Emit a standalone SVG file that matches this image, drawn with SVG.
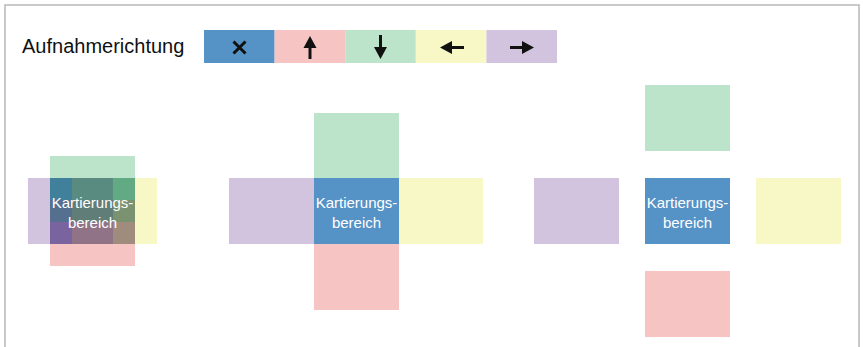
<svg xmlns="http://www.w3.org/2000/svg" width="863" height="347" viewBox="0 0 863 347">
<style>
.t{font-family:"Liberation Sans",Arial,sans-serif}
.lbl{font-size:20px;fill:#111}
.kb{font-size:15px;fill:#fff;text-anchor:middle}
.b{fill:#5592c6}.pk{fill:#f6c5c3}.g{fill:#bbe4ca}.y{fill:#f8f7c6}.pu{fill:#d2c3de}
.sh{stroke:#111;stroke-width:3;fill:none}
.hd{fill:#111}
</style>
<rect width="863" height="347" fill="#fff"/>
<path d="M5 347 V5 H859 V347" fill="none" stroke="#b8b8b8" stroke-width="1.5"/>
<g id="legend">
<text class="t lbl" x="22" y="53">Aufnahmerichtung</text>
<rect class="b" x="204" y="30" width="70.6" height="33"/>
<rect class="pk" x="274.6" y="30" width="70.6" height="33"/>
<rect class="g" x="345.2" y="30" width="70.6" height="33"/>
<rect class="y" x="415.8" y="30" width="70.6" height="33"/>
<rect class="pu" x="486.4" y="30" width="70.6" height="33"/>
<path class="sh" d="M233.5 41.5 L245.5 53.5 M245.5 41.5 L233.5 53.5"/>
<path class="sh" d="M310 59 V46"/>
<path class="hd" d="M310 36 L316.5 48 L303.5 48 Z"/>
<path class="sh" d="M380.5 35 V48"/>
<path class="hd" d="M380.5 59 L374 47 L387 47 Z"/>
<path class="sh" d="M464 47.5 H451"/>
<path class="hd" d="M440 47.5 L452 41 L452 54 Z"/>
<path class="sh" d="M510 47.5 H523"/>
<path class="hd" d="M534 47.5 L522 41 L522 54 Z"/>
</g>
<g id="overlap">
<rect class="pu" x="28" y="178" width="85" height="66"/>
<rect class="y" x="72" y="178" width="85" height="66"/>
<rect class="g" x="50" y="156" width="85" height="66"/>
<rect class="pk" x="50" y="200" width="85" height="66"/>
<rect class="b" x="50" y="178" width="85" height="66"/>
<rect x="50" y="178" width="22" height="22" fill="#41809a"/>
<rect x="72" y="178" width="41" height="22" fill="#5a8b80"/>
<rect x="113" y="178" width="22" height="22" fill="#62aa84"/>
<rect x="50" y="200" width="22" height="22" fill="#55708e"/>
<rect x="72" y="200" width="41" height="22" fill="#617d78"/>
<rect x="113" y="200" width="22" height="22" fill="#7a9270"/>
<rect x="50" y="222" width="22" height="22" fill="#7a64a0"/>
<rect x="72" y="222" width="41" height="22" fill="#917388"/>
<rect x="113" y="222" width="22" height="22" fill="#a08c7c"/>
<text class="t kb" x="92.5" y="208">Kartierungs-</text>
<text class="t kb" x="92.5" y="228">bereich</text>
</g>
<g id="adjacent">
<rect class="g" x="314" y="113" width="85" height="65"/>
<rect class="pk" x="314" y="244" width="85" height="66"/>
<rect class="pu" x="229" y="178" width="85" height="66"/>
<rect class="y" x="399" y="178" width="84" height="66"/>
<rect class="b" x="314" y="178" width="85" height="66"/>
<text class="t kb" x="356.5" y="208">Kartierungs-</text>
<text class="t kb" x="356.5" y="228">bereich</text>
</g>
<g id="separated">
<rect class="g" x="645" y="85" width="85" height="66"/>
<rect class="pk" x="645" y="271" width="85" height="66"/>
<rect class="pu" x="534" y="178" width="85" height="66"/>
<rect class="y" x="756" y="178" width="85" height="66"/>
<rect class="b" x="645" y="178" width="85" height="66"/>
<text class="t kb" x="687.5" y="208">Kartierungs-</text>
<text class="t kb" x="687.5" y="228">bereich</text>
</g>
</svg>
